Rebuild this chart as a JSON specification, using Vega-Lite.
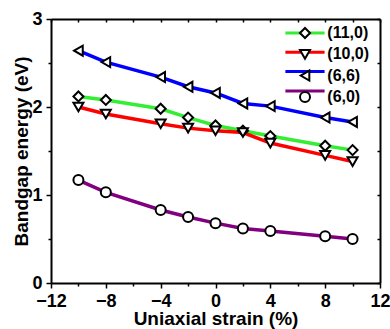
{
  "$schema": "https://vega.github.io/schema/vega-lite/v6.json",
  "width": 329,
  "height": 264,
  "autosize": {"type": "none"},
  "padding": {"left": 51, "top": 19, "right": 10, "bottom": 46},
  "background": "white",
  "config": {
    "view": {"stroke": null},
    "font": "Liberation Sans",
    "axis": {
      "domainColor": "black",
      "domainWidth": 2,
      "tickColor": "black",
      "tickWidth": 1.5,
      "grid": false,
      "labelFont": "Liberation Sans",
      "labelFontWeight": "bold",
      "labelFontSize": 18,
      "labelColor": "black",
      "labelFlush": false,
      "labelOverlap": false,
      "titleFont": "Liberation Sans",
      "titleFontWeight": "bold",
      "titleFontSize": 19,
      "titleColor": "black"
    },
    "legend": {
      "labelFont": "Liberation Sans",
      "labelFontWeight": "bold",
      "labelFontSize": 16,
      "labelColor": "black"
    }
  },
  "data": {
    "values": [
      {"tube": "(11,0)", "strain": -10, "gap": 2.12},
      {"tube": "(11,0)", "strain": -8, "gap": 2.08},
      {"tube": "(11,0)", "strain": -4, "gap": 1.98},
      {"tube": "(11,0)", "strain": -2, "gap": 1.88},
      {"tube": "(11,0)", "strain": 0, "gap": 1.79},
      {"tube": "(11,0)", "strain": 2, "gap": 1.73},
      {"tube": "(11,0)", "strain": 4, "gap": 1.67},
      {"tube": "(11,0)", "strain": 8, "gap": 1.56},
      {"tube": "(11,0)", "strain": 10, "gap": 1.51},
      {"tube": "(10,0)", "strain": -10, "gap": 2.0},
      {"tube": "(10,0)", "strain": -8, "gap": 1.92},
      {"tube": "(10,0)", "strain": -4, "gap": 1.81},
      {"tube": "(10,0)", "strain": -2, "gap": 1.76},
      {"tube": "(10,0)", "strain": 0, "gap": 1.73},
      {"tube": "(10,0)", "strain": 2, "gap": 1.71},
      {"tube": "(10,0)", "strain": 4, "gap": 1.59},
      {"tube": "(10,0)", "strain": 8, "gap": 1.45},
      {"tube": "(10,0)", "strain": 10, "gap": 1.38},
      {"tube": "(6,6)", "strain": -10, "gap": 2.64},
      {"tube": "(6,6)", "strain": -8, "gap": 2.51},
      {"tube": "(6,6)", "strain": -4, "gap": 2.34},
      {"tube": "(6,6)", "strain": -2, "gap": 2.23},
      {"tube": "(6,6)", "strain": 0, "gap": 2.16},
      {"tube": "(6,6)", "strain": 2, "gap": 2.04},
      {"tube": "(6,6)", "strain": 4, "gap": 2.01},
      {"tube": "(6,6)", "strain": 8, "gap": 1.88},
      {"tube": "(6,6)", "strain": 10, "gap": 1.83},
      {"tube": "(6,0)", "strain": -10, "gap": 1.17},
      {"tube": "(6,0)", "strain": -8, "gap": 1.03},
      {"tube": "(6,0)", "strain": -4, "gap": 0.83},
      {"tube": "(6,0)", "strain": -2, "gap": 0.75},
      {"tube": "(6,0)", "strain": 0, "gap": 0.68},
      {"tube": "(6,0)", "strain": 2, "gap": 0.62},
      {"tube": "(6,0)", "strain": 4, "gap": 0.59},
      {"tube": "(6,0)", "strain": 8, "gap": 0.53},
      {"tube": "(6,0)", "strain": 10, "gap": 0.5}
    ]
  },
  "resolve": {"axis": {"x": "independent", "y": "independent"}},
  "layer": [
    {
      "mark": {"type": "line", "strokeWidth": 3.5},
      "encoding": {
        "x": {
          "field": "strain", "type": "quantitative",
          "scale": {"domain": [-12, 12], "nice": false},
          "axis": {
            "orient": "bottom",
            "title": "Uniaxial strain (%)",
            "values": [-12, -10, -8, -6, -4, -2, 0, 2, 4, 6, 8, 10, 12],
            "format": "d",
            "labelExpr": "datum.value % 4 == 0 ? datum.label : ''",
            "tickSize": {"condition": {"test": "datum.value % 4 == 0", "value": 5}, "value": 3},
            "labelPadding": 4,
            "titlePadding": -1
          }
        },
        "y": {
          "field": "gap", "type": "quantitative",
          "scale": {"domain": [0, 3], "nice": false},
          "axis": {
            "orient": "left",
            "title": "Bandgap energy (eV)",
            "values": [0, 0.5, 1, 1.5, 2, 2.5, 3],
            "format": "~g",
            "labelExpr": "datum.value % 1 == 0 ? datum.label : ''",
            "tickSize": {"condition": {"test": "datum.value % 1 == 0", "value": 5}, "value": 3},
            "labelPadding": 4,
            "titlePadding": 0
          }
        },
        "color": {
          "field": "tube", "type": "nominal",
          "scale": {
            "domain": ["(11,0)", "(10,0)", "(6,6)", "(6,0)"],
            "range": ["#33ee33", "#ff0000", "#0000ff", "#800080"]
          },
          "legend": {
            "orient": "none",
            "legendX": 246,
            "legendY": 6,
            "title": null,
            "padding": 0,
            "rowPadding": 3.3,
            "symbolType": "M-4.9,0H4.9",
            "symbolSize": 64,
            "symbolStrokeWidth": 3,
            "symbolOffset": 0,
            "labelOffset": 14.3,
            "labelOpacity": 0
          }
        }
      }
    },
    {
      "mark": {"type": "point", "filled": false, "fill": "white", "fillOpacity": 1, "stroke": "black", "strokeWidth": 2, "size": 100, "opacity": 1},
      "encoding": {
        "x": {
          "field": "strain", "type": "quantitative",
          "axis": {
            "orient": "top",
            "title": null,
            "labels": false,
            "values": [-12, -10, -8, -6, -4, -2, 0, 2, 4, 6, 8, 10, 12],
            "tickSize": -3
          }
        },
        "y": {
          "field": "gap", "type": "quantitative",
          "axis": {
            "orient": "right",
            "title": null,
            "labels": false,
            "values": [0, 0.5, 1, 1.5, 2, 2.5, 3],
            "tickSize": -3
          }
        },
        "shape": {
          "field": "tube", "type": "nominal",
          "sort": ["(11,0)", "(10,0)", "(6,6)", "(6,0)"],
          "scale": {"range": ["diamond", "triangle-down", "triangle-left", "circle"]},
          "legend": {
            "orient": "none",
            "legendX": 246,
            "legendY": 6,
            "title": null,
            "padding": 0,
            "rowPadding": 3.3,
            "symbolSize": 100,
            "symbolStrokeWidth": 2,
            "symbolOffset": 0,
            "labelOffset": 14.3,
            "encode": {
              "symbols": {
                "fill": {"value": "white"},
                "fillOpacity": {"value": 1},
                "stroke": {"value": "black"},
                "strokeOpacity": {"value": 1},
                "strokeWidth": {"value": 2}
              }
            }
          }
        }
      }
    }
  ]
}
